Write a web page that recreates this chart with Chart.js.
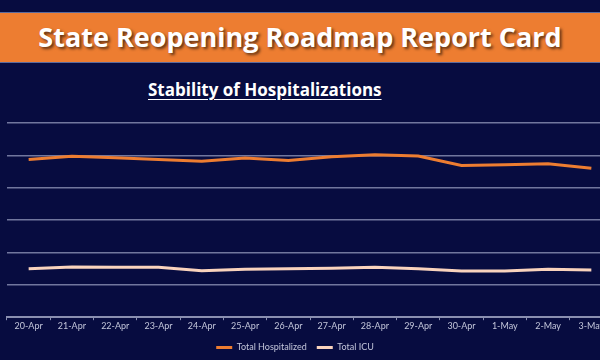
<!DOCTYPE html>
<html>
<head>
<meta charset="utf-8">
<script src="https://cdn.jsdelivr.net/npm/chart.js@4.4.0/dist/chart.umd.min.js"></script>
<style>
    html, body { margin: 0; padding: 0; }
    body {
        width: 600px;
        height: 360px;
        overflow: hidden;
        background: #070c40;
        position: relative;
        font-family: "Open Sans", sans-serif;
    }
    .banner {
        position: absolute;
        left: 0;
        top: 12px;
        width: 600px;
        height: 51px;
        background: #ed7d31;
        border-top: 1px solid #5b6b9e;
        border-bottom: 1px solid #5b6b9e;
        box-sizing: border-box;
        color: #fff;
        font-weight: bold;
        font-size: 27px;
        line-height: 47px;
        text-align: center;
        text-shadow: 2px 2px 3px rgba(0, 0, 0, 0.6);
    }
    .subtitle {
        position: absolute;
        left: 148px;
        top: 78px;
        white-space: nowrap;
        color: #fff;
        font-weight: bold;
        font-size: 17px;
        text-decoration: underline;
        text-underline-offset: 3px;
    }
    .chart-box {
        position: absolute;
        left: 0;
        top: 100px;
        width: 640px;
        height: 260px;
    }
</style>
</head>
<body>
<div class="banner">State Reopening Roadmap Report Card</div>
<div class="subtitle">Stability of Hospitalizations</div>
<div class="chart-box"><canvas id="chart"></canvas></div>

<script>
const days = ['20-Apr', '21-Apr', '22-Apr', '23-Apr', '24-Apr', '25-Apr', '26-Apr',
    '27-Apr', '28-Apr', '29-Apr', '30-Apr', '1-May', '2-May', '3-May'];

const totalHospitalized = [4875, 4969, 4928, 4875, 4822, 4916, 4844,
    4959, 5022, 4978, 4688, 4709, 4741, 4603];

const totalICU = [1500, 1553, 1541, 1541, 1438, 1478, 1500,
    1509, 1541, 1500, 1428, 1428, 1478, 1459];

const labelColor = '#c3c6da';

// legend sits a bit left of the (wider than page) chart's centre
const shiftLegend = {
    id: 'shiftLegend',
    afterUpdate(chart) {
        const lg = chart.legend;
        if (!lg) return;
        lg.left -= 15;
        lg.right -= 15;
        lg.top += 2;
        lg.bottom += 2;
        lg.adjustHitBoxes();
    }
};

new Chart(document.getElementById('chart'), {
    type: 'line',
    data: {
        labels: days,
        datasets: [{
            label: 'Total Hospitalized',
            data: totalHospitalized,
            borderColor: '#ed7d31',
            backgroundColor: '#ed7d31',
            borderWidth: 3,
            pointRadius: 0,
            tension: 0
        }, {
            label: 'Total ICU',
            data: totalICU,
            borderColor: '#f9d3bd',
            backgroundColor: '#f9d3bd',
            borderWidth: 3,
            pointRadius: 0,
            tension: 0
        }]
    },
    options: {
        responsive: true,
        maintainAspectRatio: false,
        animation: false,
        layout: {
            padding: { left: 7, right: 27, top: 23, bottom: 0 }
        },
        scales: {
            x: {
                offset: true,
                grid: {
                    offset: true,
                    drawOnChartArea: false,
                    color: '#8a8fb0',
                    tickLength: 3,
                    lineWidth: 1
                },
                border: { color: '#8a8fb0', width: 2 },
                ticks: {
                    color: labelColor,
                    font: { family: 'Lato', size: 9 },
                    maxRotation: 0,
                    autoSkip: false,
                    padding: 0
                }
            },
            y: {
                min: 0,
                max: 6000,
                grid: {
                    color: 'rgba(150, 155, 190, 0.75)',
                    lineWidth: 1.5,
                    drawTicks: false
                },
                border: { display: false },
                ticks: { display: false, stepSize: 1000 }
            }
        },
        plugins: {
            legend: {
                position: 'bottom',
                labels: {
                    color: labelColor,
                    font: { family: 'Lato', size: 9 },
                    usePointStyle: true,
                    pointStyle: 'line',
                    pointStyleWidth: 16,
                    padding: 10
                }
            },
            tooltip: { enabled: false }
        }
    },
    plugins: [shiftLegend]
});
</script>
</body>
</html>
